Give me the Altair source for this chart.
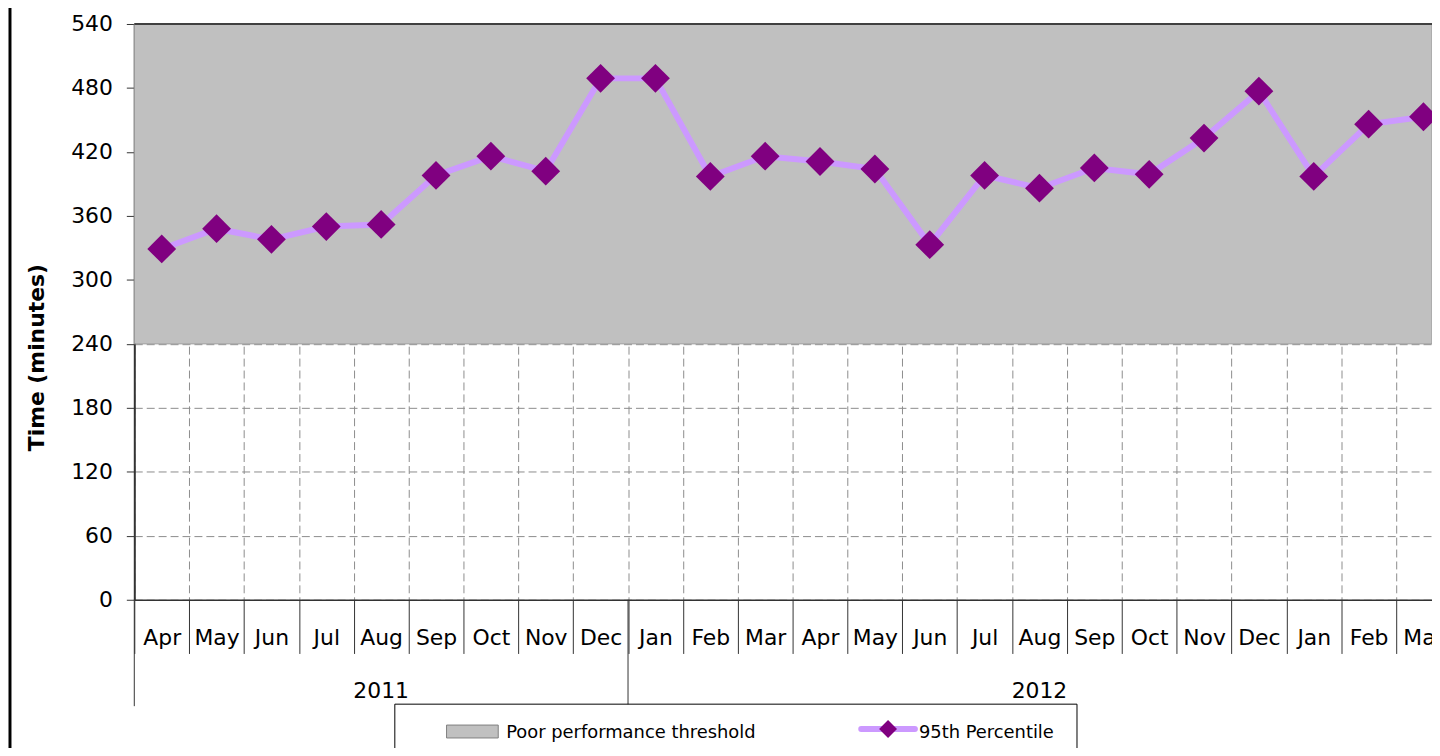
import altair as alt
import pandas as pd

# ---- data ----
months = ["Apr", "May", "Jun", "Jul", "Aug", "Sep", "Oct", "Nov", "Dec",
          "Jan", "Feb", "Mar", "Apr", "May", "Jun", "Jul", "Aug", "Sep",
          "Oct", "Nov", "Dec", "Jan", "Feb", "Mar"]
years = ["2011"] * 9 + ["2012"] * 15
p95 = [329, 348, 338, 350, 352, 398, 416, 402, 489,
       489, 397, 416, 411, 404, 333, 398, 386, 405,
       399, 433, 477, 397, 446, 453]
threshold_low = [240]
threshold_high = [540]
y_ticks = [0, 60, 120, 180, 240, 300, 360, 420, 480, 540]
legend_labels = ["Poor performance threshold", "95th Percentile"]
y_title = "Time (minutes)"

keys = [f"{m} {i}" for i, m in enumerate(months)]
df = pd.DataFrame({"key": keys, "month": months, "year": years, "value": p95})

# year groups
groups = []
start = 0
for i in range(1, len(years) + 1):
    if i == len(years) or years[i] != years[start]:
        mid = (start + i - 1) // 2
        groups.append({"year": years[start], "start_key": keys[start], "mid_key": keys[mid]})
        start = i
gdf = pd.DataFrame(groups)

FONT = "DejaVu Sans"
PLOT_W = 1305
RANGE_W = 1324
PLOT_H = 579

xscale = alt.Scale(domain=keys, range=[0, RANGE_W], paddingInner=0, paddingOuter=0, round=False)
yscale = alt.Scale(domain=[0, 540], nice=False, zero=True)

x_axis = alt.Axis(
    title=None, tickBand="extent", tickSize=54, tickColor="#333333", tickWidth=1,
    labelExpr="split(datum.label, ' ')[0]", labelAngle=0, labelFontSize=22,
    labelFont=FONT, labelColor="black", labelBaseline="alphabetic", labelPadding=-9,
    domainColor="#333333", domainWidth=1.5,
    grid=True, gridDash=[8, 4], gridColor="#8c8c8c", gridWidth=1, labelFlush=False,
    labelOverlap=False,
)
y_axis = alt.Axis(
    title=y_title, values=y_ticks, tickSize=8, tickColor="#333333",
    labelFontSize=22, labelFont=FONT, labelColor="black", labelPadding=14,
    domainColor="#333333", domainWidth=2,
    grid=True, gridDash=[8, 4], gridColor="#8c8c8c", gridWidth=1,
    titleFont=FONT, titleFontSize=22, titleFontWeight="bold", titleColor="black",
    titleX=-98, titleY=335, titleAngle=270, titleAlign="center", titleBaseline="middle",
)

base = alt.Chart(df)

thr_df = pd.DataFrame({"lo": threshold_low, "hi": threshold_high})
band = alt.Chart(thr_df).mark_rect(color="#C0C0C0", stroke="#9a9a9a", strokeWidth=1).encode(
    y=alt.Y("lo:Q", scale=yscale, axis=y_axis), y2="hi:Q"
)
top_rule = alt.Chart(thr_df).mark_rule(color="#404040", strokeWidth=2).encode(
    y=alt.Y("hi:Q", scale=yscale)
)

line = base.mark_line(color="#CC99FF", strokeWidth=6).encode(
    x=alt.X("key:N", scale=xscale, axis=x_axis, sort=keys),
    y=alt.Y("value:Q", scale=yscale),
)
pts = base.mark_point(shape="diamond", size=840, filled=True, color="#800080", opacity=1).encode(
    x=alt.X("key:N", scale=xscale, sort=keys),
    y=alt.Y("value:Q", scale=yscale),
)

year_rules = alt.Chart(gdf).mark_rule(color="#333333", strokeWidth=1).encode(
    x=alt.X("start_key:N", scale=xscale, bandPosition=0),
    y=alt.value(579), y2=alt.value(686),
)
year_text = alt.Chart(gdf).mark_text(font=FONT, fontSize=22, color="black",
                                     baseline="alphabetic", align="center").encode(
    x=alt.X("mid_key:N", scale=xscale, bandPosition=0.5),
    y=alt.value(678),
    text="year:N",
)

# ---- manual legend ----
leg_df = pd.DataFrame({"label": legend_labels})
leg_box = alt.Chart(leg_df.head(1)).mark_rect(fill="white", stroke="black", strokeWidth=1).encode(
    x=alt.value(262), x2=alt.value(948), y=alt.value(684), y2=alt.value(760)
)
leg_swatch = alt.Chart(leg_df.head(1)).mark_rect(fill="#C0C0C0", stroke="#808080", strokeWidth=1).encode(
    x=alt.value(314), x2=alt.value(366), y=alt.value(705), y2=alt.value(718)
)
leg_text1 = alt.Chart(leg_df.iloc[[0]]).mark_text(font=FONT, fontSize=18, color="black",
                                                  align="left", baseline="alphabetic").encode(
    x=alt.value(374), y=alt.value(718), text="label:N"
)
leg_line = alt.Chart(leg_df.head(1)).mark_rule(color="#CC99FF", strokeWidth=6, strokeCap="round").encode(
    x=alt.value(731), x2=alt.value(785), y=alt.value(709)
)
leg_pt = alt.Chart(leg_df.head(1)).mark_point(shape="diamond", size=324, filled=True,
                                              color="#800080", opacity=1).encode(
    x=alt.value(758), y=alt.value(709)
)
leg_text2 = alt.Chart(leg_df.iloc[[1]]).mark_text(font=FONT, fontSize=18, color="black",
                                                  align="left", baseline="alphabetic").encode(
    x=alt.value(789), y=alt.value(718), text="label:N"
)
left_border = alt.Chart(leg_df.head(1)).mark_rule(color="black", strokeWidth=3).encode(
    x=alt.value(-125), y=alt.value(-20), y2=alt.value(760)
)

chart = alt.layer(
    band, top_rule, line, pts, year_rules, year_text,
    leg_box, leg_swatch, leg_text1, leg_line, leg_pt, leg_text2, left_border,
).properties(
    width=PLOT_W, height=PLOT_H,
    autosize=alt.AutoSizeParams(type="none"),
    padding={"left": 127, "top": 14, "right": 0, "bottom": 147},
).configure_view(stroke=None).configure(background="white")

chart.save("out.html", embed_options={"renderer": "svg", "actions": False})
